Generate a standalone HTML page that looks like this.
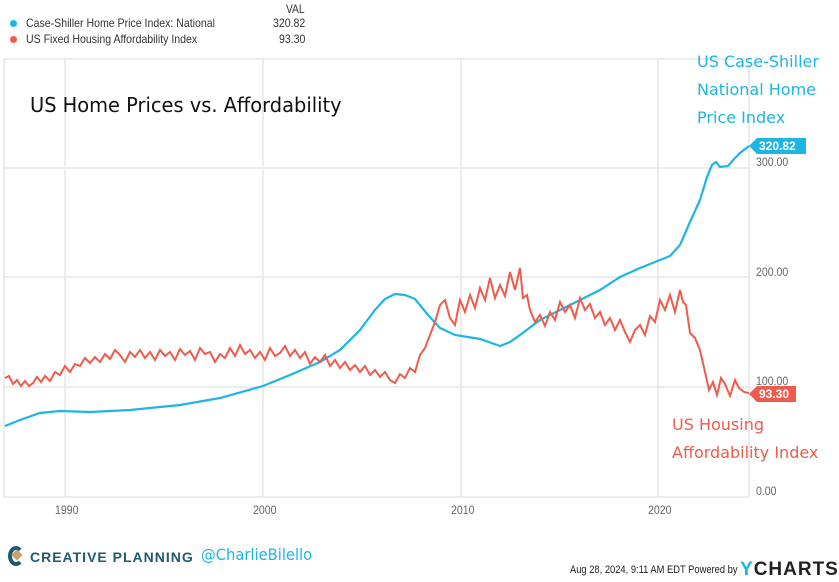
<!DOCTYPE html>
<html><head><meta charset="utf-8"><style>
body{margin:0;width:839px;height:582px;background:#fff;font-family:"Liberation Sans",sans-serif;overflow:hidden;position:relative}
.t{position:absolute;white-space:nowrap}
.hand{font-family:"Comic Sans MS","DejaVu Sans",sans-serif}
</style></head><body>
<div class="t" style="left:286px;top:2px;font-size:12px;color:#333;transform:scaleX(.85);transform-origin:left">VAL</div>
<div class="t" style="left:10px;top:16px;font-size:12px;color:#333"><span style="display:inline-block;width:7px;height:7px;border-radius:50%;background:#1cb5e4;margin-right:9px"></span><span style="display:inline-block;transform:scaleX(.88);transform-origin:left">Case-Shiller Home Price Index: National</span></div>
<div class="t" style="left:273px;top:16px;font-size:12px;color:#333;transform:scaleX(.88);transform-origin:left">320.82</div>
<div class="t" style="left:10px;top:32px;font-size:12px;color:#333"><span style="display:inline-block;width:7px;height:7px;border-radius:50%;background:#ef5b4c;margin-right:9px"></span><span style="display:inline-block;transform:scaleX(.88);transform-origin:left">US Fixed Housing Affordability Index</span></div>
<div class="t" style="left:279px;top:32px;font-size:12px;color:#333;transform:scaleX(.88);transform-origin:left">93.30</div>

<svg width="839" height="582" style="position:absolute;left:0;top:0">
<g stroke="#e6e6e6" stroke-width="1.5">
<line x1="4" y1="59" x2="749" y2="59"/>
<line x1="4" y1="168" x2="749" y2="168"/>
<line x1="4" y1="277" x2="749" y2="277"/>
<line x1="4" y1="387" x2="749" y2="387"/>
<line x1="4" y1="497" x2="749" y2="497"/>
<line x1="4" y1="59" x2="4" y2="497"/>
<line x1="749" y1="59" x2="749" y2="497"/>
<line x1="65" y1="59" x2="65" y2="497"/>
<line x1="263" y1="59" x2="263" y2="497"/>
<line x1="461" y1="59" x2="461" y2="497"/>
<line x1="658" y1="59" x2="658" y2="497"/>
</g>
<polyline fill="none" stroke="#1cb5e4" stroke-width="2.2" points="5,426 20,420 40,413 60,411 90,412 130,410 180,405 220,398 263,386 290,375 320,362 340,350 360,330 375,310 385,299 395,294 405,295 415,299 428,315 440,328 455,335 480,339 500,346 510,342 520,335 540,320 560,310 580,300 600,290 620,277 640,268 660,260 670,256 680,245 690,222 700,200 707,177 712,165 716,162 720,167 728,166 735,158 740,153 749,146"/>
<polyline fill="none" stroke="#ef5b4c" stroke-width="2" points="5,378 9,376 13,384 17,380 21,386 25,381 29,386 33,383 37,377 41,382 45,376 50,381 55,372 60,375 65,366 70,372 75,364 80,366 85,358 90,363 95,357 100,362 105,354 110,359 115,350 120,355 125,362 130,352 135,357 140,350 145,358 150,352 155,360 160,350 165,356 170,352 175,360 180,349 185,355 190,351 195,360 200,348 205,354 210,352 215,362 220,354 225,358 230,348 235,356 240,345 245,354 250,350 255,358 260,352 265,360 270,348 275,356 280,353 285,346 290,356 295,350 300,358 305,352 310,364 315,357 320,362 325,355 330,366 335,360 340,368 345,362 350,370 355,365 360,372 365,366 370,375 375,370 380,377 385,372 390,380 395,383 400,374 405,378 410,368 415,372 420,355 425,348 430,335 435,322 440,305 445,300 450,318 455,325 460,300 465,312 470,295 475,308 480,288 485,300 490,278 495,298 500,285 505,296 510,272 515,290 520,268 523,298 527,295 530,310 535,322 540,315 545,326 550,312 555,320 560,302 565,312 570,305 575,318 580,298 585,310 590,304 595,318 600,312 605,325 610,318 615,330 620,320 625,332 630,342 635,330 640,325 645,335 650,316 655,322 660,300 665,310 670,295 675,312 680,290 683,302 686,305 690,333 695,338 700,350 705,372 709,390 713,382 717,395 721,378 725,384 730,396 735,380 739,388 744,392 749,393"/>
<polygon points="749,146 757,138 806,138 806,154 757,154" fill="#1cb5e4"/>
<polygon points="749,394 757,386 796,386 796,402 757,402" fill="#ef5b4c"/>
</svg>
<div class="t" style="left:759px;top:139px;font-size:12px;color:#fff;font-weight:bold">320.82</div>
<div class="t" style="left:759px;top:387px;font-size:12px;color:#fff;font-weight:bold">93.30</div>
<div class="t" style="left:756px;top:155px;font-size:12px;color:#666;transform:scaleX(.88);transform-origin:left">300.00</div>
<div class="t" style="left:756px;top:265px;font-size:12px;color:#666;transform:scaleX(.88);transform-origin:left">200.00</div>
<div class="t" style="left:756px;top:374px;font-size:12px;color:#666;transform:scaleX(.88);transform-origin:left">100.00</div>
<div class="t" style="left:756px;top:484px;font-size:12px;color:#666;transform:scaleX(.88);transform-origin:left">0.00</div>
<div class="t" style="left:55px;top:503px;font-size:12px;color:#666;transform:scaleX(.88);transform-origin:left">1990</div>
<div class="t" style="left:253px;top:503px;font-size:12px;color:#666;transform:scaleX(.88);transform-origin:left">2000</div>
<div class="t" style="left:451px;top:503px;font-size:12px;color:#666;transform:scaleX(.88);transform-origin:left">2010</div>
<div class="t" style="left:648px;top:503px;font-size:12px;color:#666;transform:scaleX(.88);transform-origin:left">2020</div>
<div class="t hand" style="left:30px;top:93px;font-size:20px;color:#111;transform:scaleX(.97);transform-origin:left">US Home Prices vs. Affordability</div>
<div class="t hand" style="left:697px;top:48px;font-size:16px;color:#1cb5e4;line-height:28px">US Case-Shiller<br>National Home<br>Price Index</div>
<div class="t hand" style="left:672px;top:411px;font-size:16px;color:#ef5b4c;line-height:28px">US Housing<br>Affordability Index</div>
<div class="t" style="left:8px;top:546px;width:16px;height:20px;border-radius:50%;border:4px solid #1f5a6e;border-right-color:transparent;box-sizing:border-box"></div>
<div class="t" style="left:13px;top:551px;width:8px;height:8px;background:#c7a36b;transform:rotate(45deg)"></div>
<div class="t" style="left:30px;top:549px;font-size:14px;font-weight:bold;color:#1f5a6e;letter-spacing:1px">CREATIVE PLANNING</div>
<div class="t hand" style="left:201px;top:545px;font-size:16px;color:#1cb5e4;transform:scaleX(.92);transform-origin:left">@CharlieBilello</div>
<div class="t" style="left:570px;top:564px;font-size:11px;color:#222;transform:scaleX(.85);transform-origin:left">Aug 28, 2024, 9:11 AM EDT Powered by</div>
<div class="t" style="left:740px;top:559px;font-size:19px;font-weight:bold;color:#222;letter-spacing:1px"><span style="color:#1cb5e4">Y</span>CHARTS</div>
</body></html>
